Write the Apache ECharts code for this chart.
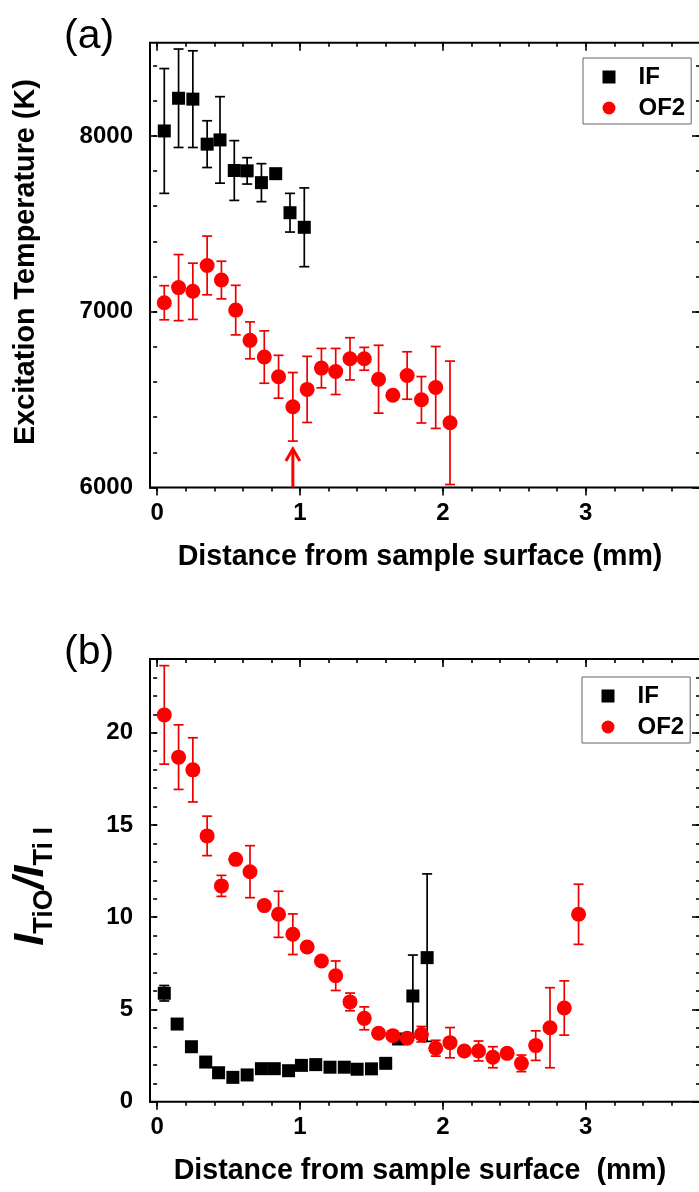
<!DOCTYPE html>
<html><head><meta charset="utf-8">
<script src="https://cdn.jsdelivr.net/npm/echarts@6/dist/echarts.min.js"></script>
<style>html,body{margin:0;padding:0;background:#fff}#c{width:699px;height:1192px}</style>
</head><body><div id="c"></div>
<script>
// ---------- data: panel (a) excitation temperature ----------
const aIF_x   = [0.05, 0.15, 0.25, 0.35, 0.44, 0.54, 0.63, 0.73, 0.83, 0.93, 1.03];
const aIF_y   = [8028, 8214, 8209, 7953, 7977, 7803, 7801, 7734, 7785, 7563, 7480];
const aIF_err = [355, 280, 275, 133, 246, 170, 75, 108, 0, 110, 224];

const aOF_x   = [0.05, 0.15, 0.25, 0.35, 0.45, 0.55, 0.65, 0.75, 0.85, 0.95, 1.05, 1.15, 1.25, 1.35, 1.45, 1.55, 1.65, 1.75, 1.85, 1.95, 2.05];
const aOF_y   = [7051, 7137, 7116, 7263, 7180, 7009, 6837, 6742, 6630, 6459, 6558, 6679, 6660, 6732, 6732, 6616, 6525, 6637, 6499, 6569, 6368];
const aOF_err = [97, 188, 160, 167, 107, 141, 105, 149, 122, 195, 188, 112, 131, 120, 65, 193, 0, 135, 132, 233, 351];

// annotation arrow in panel (a): [x, from, to]
const arrowA = [[0.95, 6000, 6225]];

// ---------- data: panel (b) intensity ratio ----------
const bIF_x   = [0.05, 0.14, 0.24, 0.34, 0.43, 0.53, 0.63, 0.73, 0.82, 0.92, 1.01, 1.11, 1.21, 1.31, 1.40, 1.50, 1.60, 1.69, 1.79, 1.89];
const bIF_y   = [5.88, 4.21, 2.98, 2.15, 1.57, 1.32, 1.45, 1.79, 1.79, 1.68, 1.97, 2.01, 1.87, 1.87, 1.76, 1.78, 2.08, 3.40, 5.73, 7.81];
const bIF_err = [0.42, 0, 0, 0, 0, 0, 0, 0, 0, 0, 0, 0, 0, 0, 0, 0, 0, 0.25, 2.22, 4.54];

const bOF_x   = [0.05, 0.15, 0.25, 0.35, 0.45, 0.55, 0.65, 0.75, 0.85, 0.95, 1.05, 1.15, 1.25, 1.35, 1.45, 1.55, 1.65, 1.75, 1.85, 1.95, 2.05, 2.15, 2.25, 2.35, 2.45, 2.55, 2.65, 2.75, 2.85, 2.95];
const bOF_y   = [20.97, 18.68, 17.99, 14.41, 11.70, 13.14, 12.47, 10.63, 10.16, 9.08, 8.39, 7.63, 6.83, 5.41, 4.52, 3.71, 3.58, 3.44, 3.66, 2.90, 3.20, 2.75, 2.75, 2.41, 2.62, 2.08, 3.04, 4.01, 5.08, 10.16];
const bOF_err = [2.67, 1.75, 1.74, 1.07, 0.57, 0, 1.41, 0, 1.25, 1.10, 0, 0, 0.80, 0.48, 0.62, 0, 0, 0, 0.42, 0.43, 0.82, 0, 0.54, 0.57, 0, 0.45, 0.80, 2.17, 1.47, 1.63];

// ---------- texts / ticks ----------
const seriesNames = ['IF', 'OF2'];
const xTitleA = 'Distance from sample surface (mm)';
const xTitleB = 'Distance from sample surface  (mm)';
const yTitleA = 'Excitation Temperature (K)';
const panelLabels = ['(a)', '(b)'];

// ---------- layout ----------
const FONT = '"Liberation Sans", Arial, Helvetica, sans-serif';
const X_MIN = -0.05, X_MAX = 3.8;
const PL = 150, PR = 700;
const panels = [
  {top: 42.7, bottom: 487.5, yMin: 6000, yMax: 8530, majInt: 1000, majMax: 8000, minInt: 200, minMax: 8400},
  {top: 659,  bottom: 1101.7, yMin: 0,   yMax: 24,   majInt: 5,    majMax: 20,   minInt: 1,   minMax: 24}
];
function px(v){ return PL + (v - X_MIN) * (PR - PL) / (X_MAX - X_MIN); }
function py(p, v){ return p.bottom - (v - p.yMin) * (p.bottom - p.top) / (p.yMax - p.yMin); }

const grids = [], xAxes = [], yAxes = [], series = [];
const labelStyle = {fontFamily: FONT, fontWeight: 'bold', fontSize: 24, color: '#000'};
const tickLine = {color: '#000', width: 1.6};

function hiddenX(g){ return {type:'value', gridIndex:g, min:X_MIN, max:X_MAX, show:false}; }
function hiddenY(g, p){ return {type:'value', gridIndex:g, min:p.yMin, max:p.yMax, show:false}; }

function addXTicks(p, max, interval, len, labels){
  const g = grids.length;
  grids.push({left: px(0), width: px(max) - px(0), top: p.top, height: p.bottom - p.top, outerBoundsMode:'none'});
  xAxes.push({type:'value', gridIndex:g, min:0, max:max, interval:interval, position:'bottom',
    axisLine:{show:false}, splitLine:{show:false},
    axisTick:{show:true, inside:false, length:len, lineStyle:tickLine},
    axisLabel:Object.assign({show:labels, margin:14, formatter: v => String(v)}, labelStyle)});
  xAxes.push({type:'value', gridIndex:g, min:0, max:max, interval:interval, position:'top',
    axisLine:{show:false}, splitLine:{show:false},
    axisTick:{show:true, inside:true, length:len, lineStyle:tickLine}, axisLabel:{show:false}});
  yAxes.push(hiddenY(g, p));
}
function addYTicks(p, max, interval, len, labels){
  const g = grids.length;
  const t = py(p, max);
  grids.push({left: PL, width: PR - PL, top: t, height: p.bottom - t, outerBoundsMode:'none'});
  yAxes.push({type:'value', gridIndex:g, min:p.yMin, max:max, interval:interval, position:'left',
    axisLine:{show:false}, splitLine:{show:false},
    axisTick:{show:true, inside:false, length:len, lineStyle:tickLine},
    axisLabel:Object.assign({show:labels, margin:17, formatter: v => String(v)}, labelStyle)});
  yAxes.push({type:'value', gridIndex:g, min:p.yMin, max:max, interval:interval, position:'right',
    axisLine:{show:false}, splitLine:{show:false},
    axisTick:{show:true, inside:true, length:len, lineStyle:tickLine}, axisLabel:{show:false}});
  xAxes.push(hiddenX(g));
}

function errRender(color){
  return function(params, api){
    const e = api.value(2);
    if (!(e > 0)) return null;
    const x = api.value(0), y = api.value(1);
    const hi = api.coord([x, y + e]), lo = api.coord([x, y - e]);
    const cw = 5, st = {stroke: color, lineWidth: 1.7};
    return {type:'group', children:[
      {type:'line', shape:{x1:hi[0], y1:hi[1], x2:lo[0], y2:lo[1]}, style:st},
      {type:'line', shape:{x1:hi[0]-cw, y1:hi[1], x2:hi[0]+cw, y2:hi[1]}, style:st},
      {type:'line', shape:{x1:lo[0]-cw, y1:lo[1], x2:lo[0]+cw, y2:lo[1]}, style:st}
    ]};
  };
}
function arrowRender(params, api){
  const x = api.value(0);
  const base = api.coord([x, api.value(1)]), tip = api.coord([x, api.value(2)]);
  const st = {stroke:'#ff0000', lineWidth:3, fill:null};
  return {type:'group', children:[
    {type:'line', shape:{x1:base[0], y1:base[1], x2:tip[0], y2:tip[1]+1}, style:st},
    {type:'polyline', shape:{points:[[tip[0]-7, tip[1]+13],[tip[0], tip[1]+1],[tip[0]+7, tip[1]+13]]}, style:st}
  ]};
}

const sets = [
  {IF:[aIF_x, aIF_y, aIF_err], OF:[aOF_x, aOF_y, aOF_err], xt:xTitleA},
  {IF:[bIF_x, bIF_y, bIF_err], OF:[bOF_x, bOF_y, bOF_err], xt:xTitleB}
];

panels.forEach((p, i) => {
  // data grid with frame
  const g = grids.length;
  const xi = xAxes.length, yi = yAxes.length;
  grids.push({left: PL, width: PR - PL, top: p.top, height: p.bottom - p.top, show:true,
    borderColor:'#000', borderWidth:2, backgroundColor:'transparent', outerBoundsMode:'none'});
  xAxes.push({type:'value', gridIndex:g, min:X_MIN, max:X_MAX, position:'bottom',
    axisLine:{show:false}, axisTick:{show:false}, axisLabel:{show:false}, splitLine:{show:false},
    name: sets[i].xt, nameLocation:'middle', nameGap:55,
    nameTextStyle:{fontFamily:FONT, fontWeight:'bold', fontSize:28.6, color:'#000', padding:[0,10,0,0]}});
  const yName = i === 0 ? {
      name: yTitleA, nameLocation:'middle', nameGap:109, nameRotate:90,
      nameTextStyle:{fontFamily:FONT, fontWeight:'bold', fontSize:28.8, color:'#000', padding:[0,0,0,6]}
    } : {
      name: '{i|I}{s|TiO}{i|/I}{s|Ti I}', nameLocation:'middle', nameGap:92, nameRotate:90,
      nameTextStyle:{fontFamily:FONT, color:'#000', padding:[0,12,0,0], rich:{
        i:{fontFamily:FONT, fontWeight:'bold', fontStyle:'italic', fontSize:43, lineHeight:54, color:'#000'},
        s:{fontFamily:FONT, fontWeight:'bold', fontSize:27, lineHeight:28, verticalAlign:'bottom', color:'#000'}
      }}
    };
  yAxes.push(Object.assign({type:'value', gridIndex:g, min:p.yMin, max:p.yMax, position:'left',
    axisLine:{show:false}, axisTick:{show:false}, axisLabel:{show:false}, splitLine:{show:false}}, yName));

  const s = sets[i];
  const mk = (a) => a[0].map((x, k) => [x, a[1][k], a[2][k]]);
  series.push({type:'custom', xAxisIndex:xi, yAxisIndex:yi, renderItem:errRender('#000'), data:mk(s.IF), z:2, silent:true});
  series.push({type:'scatter', name:'IF', xAxisIndex:xi, yAxisIndex:yi, symbol:'rect', symbolSize:13,
    itemStyle:{color:'#000', opacity:1}, data:mk(s.IF).map(d => [d[0], d[1]]), z:3});
  series.push({type:'custom', xAxisIndex:xi, yAxisIndex:yi, renderItem:errRender('#ee0000'), data:mk(s.OF), z:4, silent:true});
  series.push({type:'scatter', name:'OF2', xAxisIndex:xi, yAxisIndex:yi, symbol:'circle', symbolSize:15,
    itemStyle:{color:'#ff0000', opacity:1}, data:mk(s.OF).map(d => [d[0], d[1]]), z:5});
  if (i === 0) {
    series.push({type:'custom', xAxisIndex:xi, yAxisIndex:yi, renderItem:arrowRender, data:arrowA, z:6, silent:true});
  }
  // tick-only grids
  addXTicks(p, 3, 1, 8, true);
  addXTicks(p, 3.8, 0.2, 4, false);
  addYTicks(p, p.majMax, p.majInt, 8, true);
  addYTicks(p, p.minMax, p.minInt, 4, false);
});

function legendAt(left, top){
  return {left:left, top:top, orient:'vertical', selectedMode:false,
    data:[{name:seriesNames[0], icon:'rect'}, {name:seriesNames[1], icon:'circle'}],
    itemWidth:13, itemHeight:13, itemGap:7, padding:[7, 6, 4, 19.5],
    borderColor:'#666', borderWidth:1, backgroundColor:'#fff',
    itemStyle:{opacity:1},
    textStyle:{fontFamily:FONT, fontWeight:'bold', fontSize:24, lineHeight:24, color:'#000', padding:[0,0,0,18]}};
}

const chart = echarts.init(document.getElementById('c'), null, {renderer:'canvas'});
chart.setOption({
  animation:false,
  backgroundColor:'#fff',
  title:[
    {text:panelLabels[0], left:64, top:16, padding:0, textStyle:{fontFamily:FONT, fontWeight:'normal', fontSize:41, color:'#000'}},
    {text:panelLabels[1], left:64, top:632, padding:0, textStyle:{fontFamily:FONT, fontWeight:'normal', fontSize:41, color:'#000'}}
  ],
  legend:[legendAt(583, 58), legendAt(582, 677)],
  grid:grids, xAxis:xAxes, yAxis:yAxes, series:series
});
</script></body></html>
